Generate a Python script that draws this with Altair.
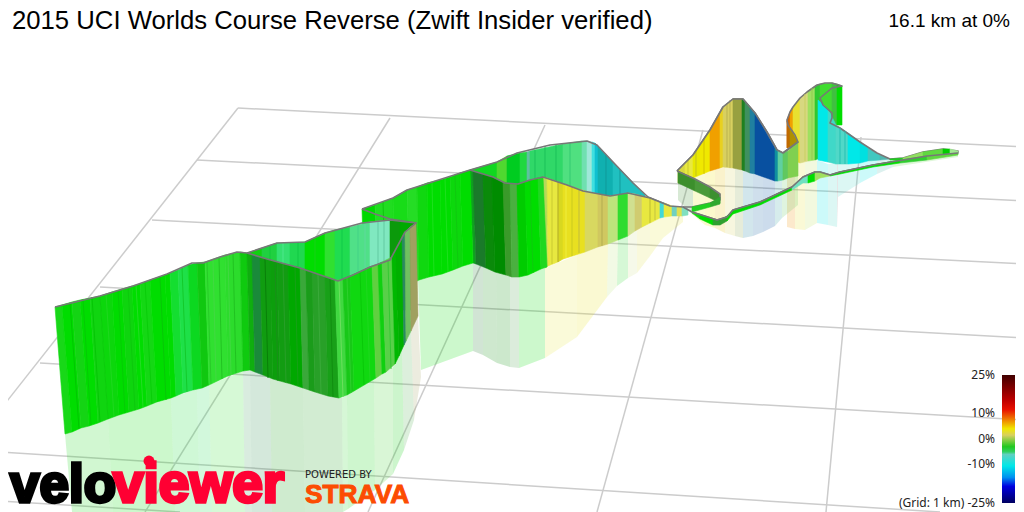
import altair as alt
import pandas as pd

TITLE = "2015 UCI Worlds Course Reverse (Zwift Insider verified)"
GRID = [(238,108,1024,147),(197,160,1024,201),(152,220,1024,264),(100,287,1024,338),(40,363,1024,420),(0,452,940,512),(0,501,180,512),
        (238,108,0,410),(390,118,145,512),(545,125,368,512),(703,130,597,512),(861,137,826,512)]

# rows: top x, top y, bottom x, bottom y, colour of the strip starting here
a1 = [(55,307,65,434,'#18d818'),(62,305,72,432,'#00dd00'),(72,302,81,428,'#14d414'),(80,300,89,426,'#00dd00'),(90,298,98,423,'#10d510'),
      (100,296,108,419,'#0cd70c'),(112,292,119,415,'#00dc00'),(122,289,129,412,'#0ed50e'),(132,286,139,409,'#00dd00'),(140,284,147,406,'#14d814'),
      (150,280,157,402,'#00dd00'),(165,275,171,398,'#00dd00'),(170,273,176,396,'#14de30'),(178,270,183,393,'#1ee048'),(188,265,193,390,'#0cd820'),
      (197,263,202,388,'#10c810'),(205,262,209,385,'#30e030'),(225,255,228,376,'#2cdc2c'),(240,252,243,371,'#0fca0f'),(247,253,250,370,'#000000')]
a2 = [(247,253,250,370,'#0fae0f'),(252,254,255,372,'#1a8a3a'),(260,257,263,375,'#109c10'),(270,260,273,379,'#0c9e0c'),(277,262,280,381,'#129c12'),
      (288,265,291,384,'#00a800'),(300,268,303,388,'#3aa83a'),(306,270,309,390,'#1a9c1a'),(312,272,315,392,'#28a028'),(325,277,328,396,'#18a018'),
      (335,280,339,398,'#40d840'),(343,279,347,395,'#18c818'),(350,276,354,391,'#10d810'),(372,266,376,378,'#60d040'),(378,264,382,374,'#10d010'),
      (382,262,386,372,'#58d048'),(392,257,395,364,'#00b800'),(396,250,399,356,'#00b000'),(402,238,404,345,'#2a8a60'),(405,232,406,341,'#70c060'),(410,227,411,331,'#a0a060'),(416,223,418,316,'#000000')]
a_back = [(247,253,250,310,'#10d010'),(262,248,262,310,'#20d040'),(277,243,277,310,'#34e070'),(290,243,290,310,'#20d850'),(305,242,305,310,'#00dd00'),
          (325,233,325,310,'#30e030'),(335,230,335,310,'#20dc50'),(350,227,350,310,'#50e088'),(370,222,370,310,'#80e8c0'),(390,220,390,310,'#0b9a0b'),
          (400,221,400,310,'#00aa00'),(416,223,416,310,'#000000')]
b_back = [(470,170,470,225,'#10d820'),(497,162,497,225,'#50d830'),(507,156,507,225,'#00cc20'),(520,153,520,225,'#20d840'),(527,152,527,225,'#60c0a0'),
          (530,151,530,225,'#30d868'),(563,144,563,225,'#50e080'),(582,141,582,225,'#70e0b0'),(587,141,587,225,'#a0e8d8'),(592,142,592,225,'#40e0e0'),
          (595,143,595,225,'#10c0d0'),(598,146,598,225,'#10b0b0'),(613,162,613,225,'#20c0c0'),(645,195,645,225,'#000000')]
b1 = [(362,209,365,300,'#00d800'),(375,205,378,298,'#20dd20'),(393,198,395,292,'#18dc18'),(407,190,410,285,'#25dd25'),(417,187,419,280,'#10d810'),
      (427,183,429,277,'#00dd00'),(440,180,442,274,'#00dd00'),(450,177,453,270,'#0cd80c'),(460,173,463,266,'#00dd00'),(470,170,473,263,'#000000')]
b2 = [(470,170,473,263,'#0fa020'),(473,171,476,264,'#1a7a2a'),(483,174,486,268,'#0a8a0a'),(492,177,495,272,'#008c00'),(503,182,506,275,'#3a9a2a'),
      (510,184,512,277,'#4ab040'),(517,184,519,277,'#00cc00'),(525,182,528,275,'#00dd00'),(538,178,541,269,'#20d820'),(543,177,547,267,'#000000')]
b3 = [(543,177,545,268,'#b8d858'),(547,178,548,266,'#e8e840'),(558,182,558,262,'#d8d820'),(563,184,563,259,'#e8e020'),(585,191,585,252,'#d8d860'),(598,194,598,247,'#d0c860'),
      (608,196,608,244,'#bce47c'),(618,195,618,240,'#30dc30'),(628,193,628,236,'#d0e090'),(635,194,635,231,'#d0cc70'),(642,196,642,227,'#e8e840'),(660,202,660,218,'#40d8d8'),
      (664,203,664,217,'#e8e840'),(672,206,672,216,'#70d0c0'),(677,207,677,216,'#e0e050'),(682,207,682,216,'#80e0c0'),(688,209,688,215,'#000000')]
hill2 = [(787,120,787,148,'#d06000'),(790,112,790,146,'#f0a000'),(793,107,793,160,'#e8e030'),(800,98,800,163,'#d8d880'),(808,91,808,161,'#a0e060'),
         (815,86,815,160,'#30c830'),(820,84,820,158,'#40dd30'),(832,83,832,125,'#40c040'),(837,84,837,125,'#00dd00'),(842,86,842,125,'#000000')]
wedge = [(787,121,787,148,'#c06a00'),(790,128,790,147,'#b09000'),(798,142,798,143,'#000000')]
hill3 = [(818,100,818,160,'#00e8e8'),(828,109,828,162,'#40d8c8'),(836,125,836,164,'#50d8c8'),(848,133,848,164,'#00e8e8'),
         (860,142,860,163,'#00e0e0'),(868,148,868,161,'#40c8c0'),(880,155,880,160,'#50b8b0'),(890,159,890,159,'#000000')]
hill1 = [(678,171,678,183,'#d8d840'),(685,163,685,180,'#e8e840'),(693,155,693,178,'#e8e800'),(700,145,700,175,'#f0e800'),(710,130,710,171,'#f0a000'),
         (720,113,720,168,'#e8d020'),(723,107,723,167,'#d8d060'),(733,99,733,168,'#98a040'),(742,99,742,170,'#208020'),(745,101,745,171,'#409060'),
         (750,107,750,173,'#2080a0'),(755,113,755,174,'#0850a0'),(775,148,775,181,'#1090a0'),(778,151,778,181,'#60d0a0'),(783,153,783,180,'#60c860'),
         (788,151,788,178,'#80d050'),(798,142,798,176,'#000000')]
strip = [(678,171,678,183,'#3c8f2c'),(695,179,695,191,'#4a9a3a'),(710,187,710,198,'#3c9030'),(720,194,720,203,'#000000')]
ret = [(720,197,720,204,'#30a830'),(710,203,710,207,'#20d020'),(692,207,692,212,'#000000')]
far = [(890,159,890,160,'#20cc20'),(903,158,903,160,'#90e060'),(923,152,923,157,'#60d840'),(943,149,943,155,'#00cc00'),(950,149,950,154,'#a0e890'),(958,151,958,153,'#000000')]
near = [(692,212,692,213,'#10dd10'),(700,215,700,219,'#00dd00'),(713,219,713,225,'#30a030'),(720,220,720,225,'#30a030'),(727,216,727,221,'#00dd00'),(733,210,733,214,'#00dd00'),
        (760,202,760,205,'#00dd00'),(792,187,792,190,'#70e0c0'),(803,177,803,183,'#70e0c0'),(808,175,808,183,'#00dd00'),(815,172,815,181,'#a0e060'),(820,172,820,178,'#a0e060'),
        (830,175,830,176,'#00dd00'),(840,172,840,174,'#00dd00'),(873,165,873,167,'#00dd00'),(900,160,900,163,'#30cc30'),(927,156,927,160,'#60d840'),(958,153,958,155,'#000000')]
rA = [(65,434,72,512,'#18d818'),(108,419,113,512,'#00dd00'),(171,398,175,512,'#10dd30'),(197,389,200,512,'#20dd50'),(209,385,212,512,'#30e030'),(243,371,245,512,'#40a060'),
      (250,370,252,512,'#2a8a4a'),(270,378,272,512,'#109a10'),(303,388,305,512,'#1fa01f'),(342,398,343,512,'#30d830'),(347,395,348,509,'#0cd40c'),(374,379,375,490,'#40d030'),
      (393,367,393,474,'#00cc00'),(402,348,404,450,'#50b050'),(411,331,414,420,'#a0a060'),(418,316,421,377,'#000000')]
rB = [(418,280,421,370,'#00dd00'),(473,263,473,351,'#1a7a2a'),(483,267,483,355,'#0a8a0a'),(496,272,497,363,'#008c00'),(510,276,510,367,'#4aa04a'),(519,277,519,368,'#00dd00'),
      (545,268,545,358,'#e8e840'),(577,255,577,337,'#e8e020'),(608,244,607,297,'#bce47c'),(618,240,617,286,'#30dc30'),(628,236,628,278,'#d0e090'),(637,229,637,273,'#e0e050'),
      (650,223,650,256,'#e8e840'),(663,217,663,238,'#e8e840'),(683,216,683,222,'#000000')]
rC = [(678,183,678,200,'#3c8f2c'),(693,178,693,215,'#e8e820'),(705,173,705,225,'#f0e000'),(715,170,715,228,'#e8c000'),(725,167,725,233,'#d8d060'),(735,168,735,236,'#80a040'),
      (743,171,743,238,'#2080a0'),(753,174,753,236,'#1060a0'),(763,177,763,232,'#0050a0'),(775,181,775,226,'#30a0a0'),(782,180,782,218,'#60c860'),(798,176,798,205,'#000000')]
rD = [(787,160,787,227,'#f09000'),(795,163,795,229,'#e8e030'),(805,161,805,230,'#c0e060'),(817,160,817,223,'#00e8e8'),(828,164,828,225,'#50d8c8'),(837,164,837,227,'#808080'),(838,164,838,197,'#50d8c8'),
      (860,163,860,183,'#00e8e8'),(877,160,877,174,'#50b8b0'),(893,159,893,167,'#60d840'),(958,153,958,157,'#000000')]

# thin lighter or darker streaks read from the walls
s_a1 = [(70,303,79,429,'#00c400'),(83,299,91,425,'#06c806'),(92,297,100,422,'#04c404'),(100,296,108,419,'#0acb0a'),(106,294,114,417,'#20d820'),(118,290,125,413,'#06ca06'),
        (128,287,135,410,'#0cc80c'),(136,285,143,407,'#28dc28'),(145,282,152,404,'#08cc08'),(160,277,166,400,'#08c408'),(182,268,187,392,'#12c828'),(207,261,211,384,'#28c828'),
        (213,260,216,381,'#44d844'),(219,258,222,379,'#20c020'),(228,255,231,375,'#44d844'),(233,253,236,373,'#20c020')]
s_a2 = [(265,259,268,378,'#087c08'),(275,262,278,381,'#1c8c1c'),(283,264,286,383,'#2aa02a'),(295,267,298,386,'#18a018'),(318,274,321,394,'#3cac3c'),(330,278,333,397,'#108c10'),
        (339,281,343,397,'#70e060'),(347,278,351,393,'#30d030'),(360,272,364,385,'#08c808'),(366,268,370,381,'#20d820'),(388,260,391,369,'#30c830')]
s_ab = [(270,246,270,300,'#10c838'),(283,243,283,300,'#50e890'),(298,243,298,300,'#10c840'),(315,237,315,300,'#18d018'),(342,229,342,300,'#10c848'),(358,225,358,300,'#40d088'),(365,224,365,300,'#60d8a0'),(378,221,378,300,'#60c8a0'),(384,220,384,300,'#60c8a0')]
s_b = [(383,202,386,296,'#10c010'),(432,182,434,276,'#20e020'),(445,178,448,272,'#20e020'),(455,175,458,268,'#10c810'),(530,180,533,273,'#10c810'),(552,180,552,264,'#c8c830'),
       (558,182,558,262,'#b0a830'),(566,185,566,258,'#f0f040'),(572,187,572,256,'#c8c820'),(579,189,579,253,'#c0b840'),(602,195,602,246,'#b0a850'),(650,198,650,223,'#b8b830'),(655,200,655,220,'#c0c040')]
s_back = [(535,150,535,225,'#18c058'),(545,146,545,225,'#18c058'),(556,145,556,225,'#18c058'),(570,143,570,225,'#30c870'),(606,155,606,225,'#109898'),(620,169,620,225,'#109898')]
s_h = [(688,160,688,179,'#c8c830'),(696,150,696,176,'#c0c020'),(704,139,704,174,'#d0c000'),(727,103,727,167,'#b8b050'),(730,100,730,168,'#b8b050'),
       (840,128,840,164,'#20c0b0'),(845,131,845,164,'#20c0b0'),(805,94,805,161,'#c8d060'),(812,88,812,160,'#90c850')]

# outlines drawn with a wall: x, y points
o_a_back = [(247,253),(277,243),(305,242),(325,233),(362,223),(390,220),(416,223)]
o_a_front = [(55,307),(100,296),(133,286),(167,274),(192,263),(203,263),(220,257),(237,252),(247,253),(267,259),(300,268),(338,281),(353,275),(370,267),(390,260),(397,247),(405,232),(416,223)]
o_b_in = [(362,209),(375,214),(390,219),(417,223)]
o_b = [(362,209),(393,198),(407,190),(470,170),(493,177),(505,183),(518,184),(530,180),(543,177),(567,185),(583,191),(610,196),(628,193),(650,198),(670,206),(683,207),(692,212)]
o_b_back = [(470,170),(497,162),(517,153),(550,145),(587,141),(597,145),(613,162),(633,183),(648,197),(670,206)]
o_h1 = [(677,171),(693,155),(710,130),(723,107),(733,99),(743,99),(755,113),(767,132),(777,150),(783,153),(798,142),(795,135),(788,125),(787,120),(790,112),(793,107),(800,98),(807,92),(817,85),(825,83),(832,83),(842,86),(832,88),(820,98),(823,105),(832,113),(832,118),(830,123),(840,128),(860,142),(877,153),(890,159),(903,158),(923,152),(943,149),(958,151),(958,153),(927,156),(873,165),(840,172),(830,175),(820,172),(815,172),(803,177),(792,187),(760,202),(733,210),(727,217),(717,220),(692,212)]
o_h1_front = [(677,171),(693,155),(710,130),(723,107),(733,99),(743,99),(755,113),(767,132),(777,150),(783,153),(798,142)]
o_near = [(958,153),(927,156),(873,165),(840,172),(830,175),(820,172),(815,172),(803,177),(792,187),(760,202),(733,210),(727,217),(717,220),(692,212)]
o_strip = [(677,171),(695,179),(710,187),(720,194),(720,200),(710,203),(692,207),(683,207)]

BAR_STOPS = [(0,'#400000'),(0.2,'#c00000'),(0.27,'#e81000'),(0.36,'#f09000'),(0.42,'#f0e800'),(0.47,'#d8d060'),(0.56,'#20c820'),(0.6,'#30d060'),(0.62,'#60d0c0'),(0.71,'#00e8e8'),(0.8,'#0090f0'),(0.87,'#0000e0'),(1,'#000060')]
BAR = [(1002,375,1015,503)]
TEXTS = [
 (12,29,TITLE,'left',25.7,'Liberation Sans','normal','#000000'),
 (1010,27,'16.1 km at 0%','right',19,'Liberation Sans','normal','#000000'),
 (995,379,'25%','right',12,'Noto Sans','normal','#222222'),
 (995,417,'10%','right',12,'Noto Sans','normal','#222222'),
 (995,443,'0%','right',12,'Noto Sans','normal','#222222'),
 (995,468,'-10%','right',12,'Noto Sans','normal','#222222'),
 (995,507,'(Grid: 1 km) -25%','right',12,'Noto Sans','normal','#222222'),
 (305,478,'POWERED BY','left',10,'DejaVu Sans','normal','#222222'),
]
LOGO = [(10,502,'velo','#000000',53),(113,502,'viewer','#ff0033',55)]
STRAVA = [(305,503,'STRAVA','#fc4c02')]
DOT = [(149,461,'#ff0033')]

X = alt.X('x:Q', scale=alt.Scale(domain=[8,1016], nice=False, zero=False), axis=None)
Y = alt.Y('y:Q', scale=alt.Scale(domain=[512,8], nice=False, zero=False), axis=None)

def quads(rows, opacity=1.0, seam=0.6):
    recs = []
    for i in range(len(rows)-1):
        a, b = rows[i], rows[i+1]
        pts = [(a[0],a[1]),(b[0],b[1]),(b[2],b[3]),(a[2],a[3]),(a[0],a[1])]
        for j,(x,y) in enumerate(pts):
            recs.append({'x':x,'y':y,'seg':i,'ord':j,'col':a[4]})
    base = alt.Chart(pd.DataFrame(recs))
    return base.mark_line(opacity=opacity, strokeWidth=seam, filled=True).encode(
        x=X, y=Y, detail='seg:N', order='ord:Q',
        fill=alt.Fill('col:N', scale=None), stroke=alt.Stroke('col:N', scale=None))

def streaks(rows):
    df = pd.DataFrame(rows, columns=['x','y','x2','y2','col'])
    return alt.Chart(df).mark_rule(strokeWidth=1, opacity=0.9).encode(x=X, y=Y, x2='x2:Q', y2='y2:Q', color=alt.Color('col:N', scale=None))

def outline(points):
    df = pd.DataFrame([{'x':x,'y':y,'ord':i} for i,(x,y) in enumerate(points)])
    return alt.Chart(df).mark_line(color='#777777', strokeWidth=1.6, strokeJoin='round').encode(x=X, y=Y, order='ord:Q')

grid = alt.Chart(pd.DataFrame(GRID, columns=['x','y','x2','y2'])).mark_rule(color='#cccccc', strokeWidth=1.5).encode(x=X, y=Y, x2='x2:Q', y2='y2:Q')

layers = [grid]
for r in (rD, rC, rB, rA):
    layers.append(quads(r, opacity=0.2, seam=0))
layers += [quads(hill2), quads(hill3), quads(wedge), outline(o_h1), quads(hill1), streaks(s_h), outline(o_h1_front),
           quads(strip), outline(o_strip), quads(ret), quads(far), quads(near), outline(o_near),
           quads(b_back), streaks(s_back), outline(o_b_back), quads(b3), quads(b2), quads(b1), streaks(s_b), outline(o_b), outline(o_b_in),
           quads(a_back), streaks(s_ab), outline(o_a_back), quads(a1), streaks(s_a1), quads(a2), streaks(s_a2), outline(o_a_front)]

bar = alt.Chart(pd.DataFrame(BAR, columns=['x','y','x2','y2'])).mark_rect(
    color=alt.Gradient(gradient='linear', x1=0, x2=0, y1=0, y2=1,
                       stops=[alt.GradientStop(offset=o, color=c) for o,c in BAR_STOPS])).encode(x=X, y=Y, x2='x2:Q', y2='y2:Q')
layers.append(bar)

for (x,y,t,al,sz,fnt,wt,c) in TEXTS:
    layers.append(alt.Chart(pd.DataFrame([{'x':x,'y':y,'t':t}])).mark_text(align=al, baseline='alphabetic', fontSize=sz, font=fnt, fontWeight=wt, color=c).encode(x=X, y=Y, text='t:N'))
for (x,y,t,c,sz) in LOGO:
    layers.append(alt.Chart(pd.DataFrame([{'x':x,'y':y,'t':t}])).mark_text(align='left', baseline='alphabetic', fontSize=sz, font='Liberation Sans', fontWeight='bold', color=c, stroke=c, strokeWidth=3.4).encode(x=X, y=Y, text='t:N'))
layers.append(alt.Chart(pd.DataFrame(DOT, columns=['x','y','c'])).mark_circle(size=120, opacity=1, color='#ff0033').encode(x=X, y=Y))
for (x,y,t,c) in STRAVA:
    layers.append(alt.Chart(pd.DataFrame([{'x':x,'y':y,'t':t}])).mark_text(align='left', baseline='alphabetic', fontSize=26.3, font='Liberation Sans', fontWeight='bold', color=c, stroke=c, strokeWidth=1).encode(x=X, y=Y, text='t:N'))

chart = alt.layer(*layers).properties(width=1008, height=504, padding=0, autosize=alt.AutoSizeParams(type='none')).configure_view(stroke=None)
chart.save("out.html", embed_options={"renderer": "svg", "actions": False})
